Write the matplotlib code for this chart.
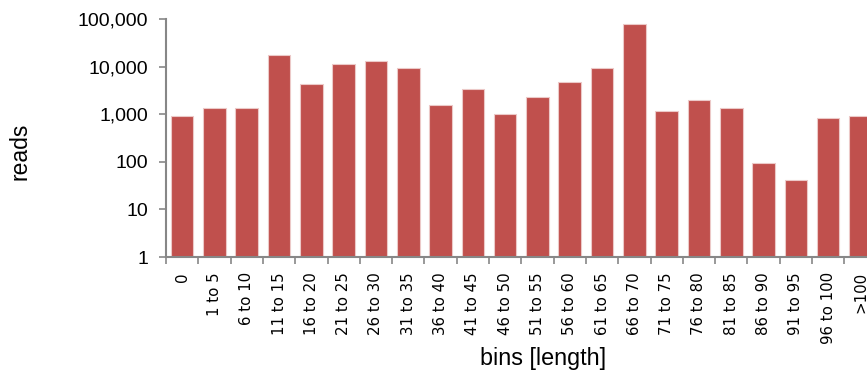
import numpy as np
import matplotlib.pyplot as plt
from matplotlib.ticker import FuncFormatter, FixedLocator, NullLocator

# Read counts per length bin
bins = ["0", "1 to 5", "6 to 10", "11 to 15", "16 to 20", "21 to 25", "26 to 30",
        "31 to 35", "36 to 40", "41 to 45", "46 to 50", "51 to 55", "56 to 60",
        "61 to 65", "66 to 70", "71 to 75", "76 to 80", "81 to 85", "86 to 90",
        "91 to 95", "96 to 100", ">100"]
reads = [920, 1350, 1350, 17800, 4370, 11200, 12900, 9500, 1580, 3450, 995,
         2330, 4760, 9500, 78000, 1170, 2000, 1370, 96, 41, 845, 920]

bar_color = "#C0504D"
axis_gray = "#878787"

fig = plt.figure(figsize=(8.67, 3.79), dpi=100)
# axes runs a little past the right edge, so the last bar gets cut
ax = fig.add_axes([166 / 867, 122 / 379, 22 * 32.3 / 867, 238 / 379])

x = np.arange(len(bins))
ax.bar(x, reads, width=0.7, color=bar_color, edgecolor="#ecc9c8", linewidth=0.8)

ax.set_yscale("log")
ax.set_ylim(1, 100000)
ax.set_xlim(-0.5, len(bins) - 0.5)
ax.yaxis.set_major_locator(FixedLocator([1, 10, 100, 1000, 10000, 100000]))
ax.yaxis.set_minor_locator(NullLocator())
ax.yaxis.set_major_formatter(FuncFormatter(lambda v, p: f"{int(v):,}"))

ax.set_xticks(x)
ax.set_xticklabels(bins, rotation=90, fontsize=10.8, family="DejaVu Sans")
ax.set_xticks(np.arange(len(bins) + 1) - 0.5, minor=True)
ax.tick_params(axis="x", which="major", length=0, pad=11)
ax.tick_params(axis="x", which="minor", length=5, color=axis_gray, width=1.2)
ax.tick_params(axis="y", length=5, color=axis_gray, width=1.2, pad=8,
               labelsize=14)
for lab in ax.get_yticklabels():
    lab.set_family("Liberation Sans")

for side in ["top", "right"]:
    ax.spines[side].set_visible(False)
for side in ["left", "bottom"]:
    ax.spines[side].set_color(axis_gray)
    ax.spines[side].set_linewidth(1.5)

fig.text(543 / 867, 1 - 359 / 379, "bins [length]", ha="center", va="center",
         fontsize=16.8, family="Liberation Sans")
fig.text(20 / 867, 1 - 151 / 379, "reads", ha="center", va="center",
         rotation=90, fontsize=16.5, family="Liberation Sans")

fig.savefig("out.png", dpi=100)
